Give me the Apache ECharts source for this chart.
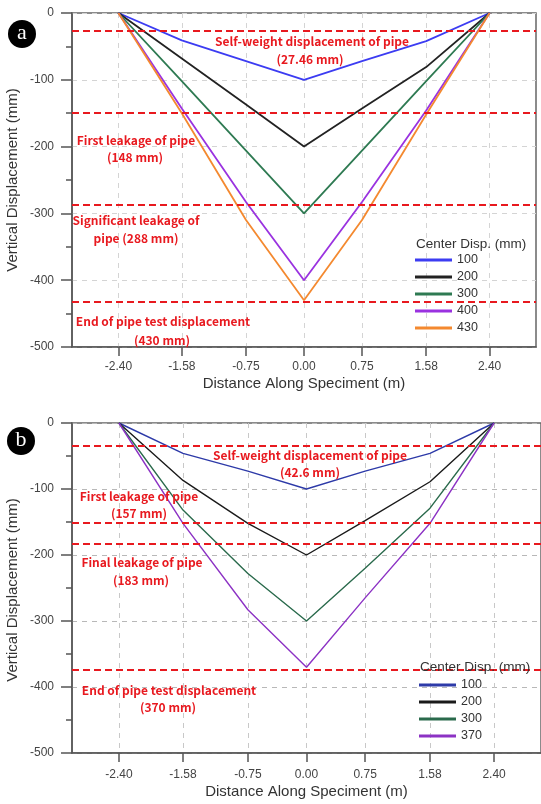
<!DOCTYPE html>
<html><head><meta charset="utf-8">
<script src="https://cdn.jsdelivr.net/npm/echarts@6/dist/echarts.min.js"></script>
<style>html,body{margin:0;padding:0;background:#fff}#c{width:541px;height:804px}</style>
</head><body><div id="c"></div>
<script>
// ---- data ----
const xPositions = [-2.4, -1.58, -0.75, 0, 0.75, 1.58, 2.4];
const xTickLabels = ['-2.40', '-1.58', '-0.75', '0.00', '0.75', '1.58', '2.40'];

// panel a
const aNames = ['100', '200', '300', '400', '430'];
const a100 = [0, -41, -72, -100, -72, -42, 0];
const a200 = [0, -68, -137, -200, -143, -81, 0];
const a300 = [0, -102, -206, -300, -206, -102, 0];
const a400 = [0, -143, -283, -400, -283, -146, 0];
const a430 = [0, -150, -310, -430, -310, -152, 0];
const aRefLines = [-26, -150, -287, -433];

// panel b
const bNames = ['100', '200', '300', '370'];
const b100 = [0, -46, -73, -100, -73, -46, 0];
const b200 = [0, -87, -152, -200, -148, -89, 0];
const b300 = [0, -132, -228, -300, -220, -129, 0];
const b370 = [0, -152, -283, -370, -265, -152, 0];
const bRefLines = [-35, -151, -183, -374];

const aColors = ['#3c3cf2', '#222222', '#2e7a52', '#9a32e0', '#f4892f'];
const bColors = ['#2d3aa8', '#1a1a1a', '#2a6a4c', '#8c32c4'];

const chart = echarts.init(document.getElementById('c'), null, {renderer: 'canvas'});
const FONT = '"Liberation Sans", Arial, sans-serif';
const RED = '#e8191f';
const ANN_FONT = 'bold 12px "Noto Sans CJK KR", "Noto Sans", sans-serif';

function zip(vals) { return xPositions.map((x, i) => [x, vals[i]]); }

function xAxis(gi) {
  return {
    type: 'value', gridIndex: gi, min: -3, max: 3,
    name: 'Distance Along Speciment (m)', nameLocation: 'middle', nameGap: gi === 0 ? 29 : 31,
    nameTextStyle: {fontFamily: FONT, fontSize: 15, color: '#333'},
    axisLine: {show: true, onZero: false, lineStyle: {color: '#555', width: 1.5}},
    axisTick: {show: true, customValues: xPositions, length: 9, lineStyle: {color: '#555', width: 1.5}},
    axisLabel: {customValues: xPositions, margin: gi === 0 ? 14 : 16, fontFamily: FONT, fontSize: 12, color: '#444',
      formatter: v => xTickLabels[xPositions.indexOf(v)] ?? v.toFixed(2)},
    splitLine: {show: true, lineStyle: {color: gi === 0 ? '#d4d4d4' : '#c8c8c8', type: [5, 5], width: 1}}
  };
}
function yAxis(gi) {
  return {
    type: 'value', gridIndex: gi, min: -500, max: 0, interval: 100,
    axisLine: {show: true, onZero: false, lineStyle: {color: '#555', width: 1.5}},
    axisTick: {show: true, length: 11, lineStyle: {color: '#555', width: 1.5}},
    minorTick: {show: true, splitNumber: 2, length: 6, lineStyle: {color: '#555', width: 1.5}},
    axisLabel: {margin: 18, fontFamily: FONT, fontSize: 12, color: '#444'},
    splitLine: {show: true, lineStyle: {color: gi === 0 ? '#d4d4d4' : '#b8b8b8', type: [5, 5], width: 1}}
  };
}
function refMark(vals) {
  return {
    silent: true, symbol: 'none', label: {show: false},
    lineStyle: {color: RED, type: [7, 4], width: 2},
    data: vals.map(v => ({yAxis: v})), z: 10
  };
}
const series = [];
[a100, a200, a300, a400, a430].forEach((d, i) => {
  series.push({
    name: aNames[i], type: 'line', xAxisIndex: 0, yAxisIndex: 0, data: zip(d),
    symbol: 'none', lineStyle: {color: aColors[i], width: 1.8}, itemStyle: {color: aColors[i]},
    markLine: i === 0 ? refMark(aRefLines) : undefined, z: 5
  });
});
[b100, b200, b300, b370].forEach((d, i) => {
  series.push({
    name: 'b' + bNames[i], type: 'line', xAxisIndex: 1, yAxisIndex: 1, data: zip(d),
    symbol: 'none', lineStyle: {color: bColors[i], width: 1.4}, itemStyle: {color: bColors[i]},
    markLine: i === 0 ? refMark(bRefLines) : undefined, z: 5
  });
});

function txt(t, x, y, align) {
  return {type: 'text', z: 100, style: {text: t, x: x, y: y, textAlign: align || 'center',
    textVerticalAlign: 'middle', fill: RED, font: ANN_FONT}};
}
function panelLabel(letter, cx, cy) {
  return [
    {type: 'circle', z: 100, shape: {cx: cx, cy: cy, r: 14}, style: {fill: '#000'}},
    {type: 'text', z: 101, style: {text: letter, x: cx, y: cy - 1, textAlign: 'center', textVerticalAlign: 'middle',
      fill: '#fff', font: '22px "Liberation Serif", "DejaVu Serif", serif'}}
  ];
}
function yName(cx, cy) {
  return {type: 'text', z: 100, x: cx, y: cy, rotation: Math.PI / 2,
    style: {text: 'Vertical Displacement (mm)', x: 0, y: 0, textAlign: 'center', textVerticalAlign: 'middle',
      fill: '#333', font: '15px ' + FONT}};
}
function legTitle(x, y) {
  return {type: 'text', z: 100, style: {text: 'Center Disp. (mm)', x: x, y: y, textAlign: 'left',
    textVerticalAlign: 'middle', fill: '#333', font: '13.5px ' + FONT}};
}

const option = {
  animation: false,
  backgroundColor: '#fff',
  grid: [
    {left: 72, right: 5, top: 13, height: 334, show: true, borderColor: '#666', borderWidth: 1.5, backgroundColor: 'transparent'},
    {left: 72, right: -5, top: 423, height: 330, show: true, borderColor: '#666', borderWidth: 1.5, backgroundColor: 'transparent'}
  ],
  xAxis: [xAxis(0), xAxis(1)],
  yAxis: [yAxis(0), yAxis(1)],
  legend: [
    {data: aNames, orient: 'vertical', left: 415, top: 253, itemWidth: 37, itemHeight: 3, itemGap: 3, icon: 'rect',
      textStyle: {fontFamily: FONT, fontSize: 12.5, color: '#333', lineHeight: 14}, padding: 0, selectedMode: false},
    {data: bNames.map(n => ({name: 'b' + n})), orient: 'vertical', left: 419, top: 678, itemWidth: 37, itemHeight: 3, itemGap: 3, icon: 'rect',
      formatter: n => n.slice(1),
      textStyle: {fontFamily: FONT, fontSize: 12.5, color: '#333', lineHeight: 14}, padding: 0, selectedMode: false}
  ],
  graphic: [
    ...panelLabel('a', 22, 34),
    ...panelLabel('b', 21, 441),
    yName(13, 180), yName(13, 590),
    legTitle(416, 244), legTitle(420, 667),
    txt('Self-weight displacement of pipe', 312, 41),
    txt('(27.46 mm)', 310, 59),
    txt('First leakage of pipe', 136, 140),
    txt('(148 mm)', 135, 157),
    txt('Significant leakage of', 136, 220),
    txt('pipe (288 mm)', 136, 238),
    txt('End of pipe test displacement', 163, 321),
    txt('(430 mm)', 162, 340),
    txt('Self-weight displacement of pipe', 310, 455),
    txt('(42.6 mm)', 310, 472),
    txt('First leakage of pipe', 139, 496),
    txt('(157 mm)', 139, 513),
    txt('Final leakage of pipe', 142, 562),
    txt('(183 mm)', 141, 580),
    txt('End of pipe test displacement', 169, 690),
    txt('(370 mm)', 168, 707)
  ],
  series: series
};
chart.setOption(option);
</script>
</body></html>
